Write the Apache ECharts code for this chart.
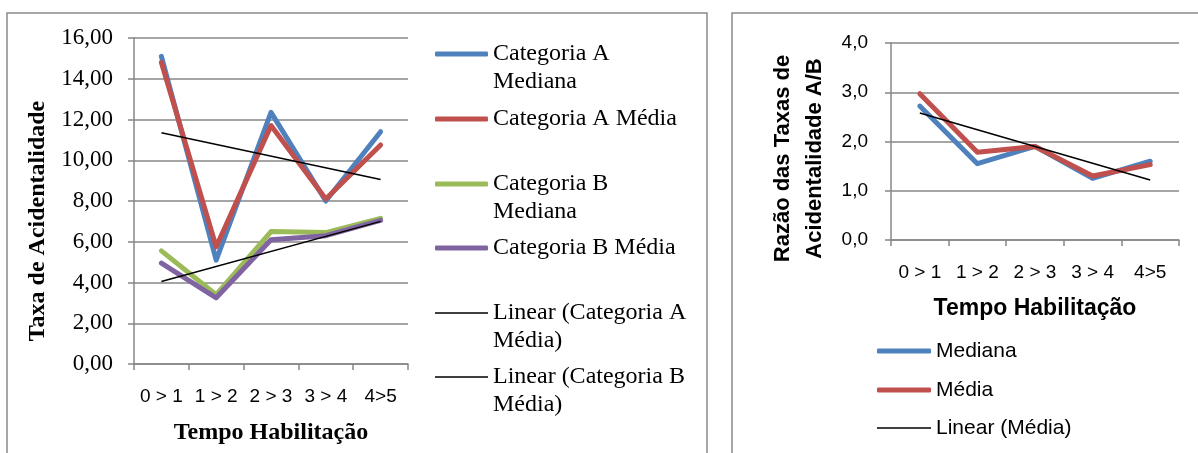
<!DOCTYPE html>
<html>
<head>
<meta charset="utf-8">
<script src="https://cdn.jsdelivr.net/npm/echarts@6/dist/echarts.min.js"></script>
<style>html,body{margin:0;padding:0;background:#fff;}#c{width:1198px;height:453px;}</style>
</head>
<body>
<div id="c"></div>
<script>
// ---- data ----
const categories = ['0 > 1', '1 > 2', '2 > 3', '3 > 4', '4>5'];
const catAMediana = [15.1, 5.1, 12.35, 8.0, 11.4];
const catAMedia   = [14.8, 5.75, 11.7, 8.1, 10.75];
const catBMediana = [5.55, 3.4, 6.5, 6.45, 7.15];
const catBMedia   = [4.95, 3.25, 6.1, 6.3, 7.05];
const linearAMedia = [11.35, null, null, null, 9.05];
const linearBMedia = [4.05, null, null, null, 7.0];
const razaoMediana = [2.72, 1.55, 1.9, 1.25, 1.6];
const razaoMedia   = [2.97, 1.78, 1.9, 1.3, 1.53];
const linearRazaoMedia = [2.58, null, null, null, 1.22];
const leftYTickLabels = ['0,00','2,00','4,00','6,00','8,00','10,00','12,00','14,00','16,00'];
const rightYTickLabels = ['0,0','1,0','2,0','3,0','4,0'];

const SERIF = '"Liberation Serif", "Times New Roman", serif';
const SANS = '"Liberation Sans", Arial, sans-serif';
const GRID_C = '#878787';
const BLUE = '#4F81BD', RED = '#C0504D', GREEN = '#9BBB59', PURPLE = '#8064A2';

function dataLine(name, data, color, xi) {
  return { name, type: 'line', data, xAxisIndex: xi, yAxisIndex: xi, symbol: 'none', silent: true,
    lineStyle: { color, width: 5, cap: 'round', join: 'round' }, itemStyle: { color } };
}
function trendLine(name, data, xi) {
  return { name, type: 'line', data, xAxisIndex: xi, yAxisIndex: xi, symbol: 'none', connectNulls: true, silent: true,
    lineStyle: { color: '#000', width: 1.5 }, itemStyle: { color: '#000' } };
}
function yAxisBase(gi, max, interval, labels, font, fontSize, margin) {
  return { type: 'value', gridIndex: gi, min: 0, max, interval,
    axisLine: { show: true, lineStyle: { color: GRID_C, width: 1.5 } },
    axisTick: { show: true, length: 6, lineStyle: { color: GRID_C, width: 1.5 } },
    splitLine: { show: true, lineStyle: { color: GRID_C, width: 1.5 } },
    axisLabel: { color: '#000', fontFamily: font, fontSize, margin, formatter: (v, i) => labels[i] } };
}
function xAxisBase(gi, font, fontSize, margin) {
  return { type: 'category', gridIndex: gi, data: categories, boundaryGap: true,
    axisLine: { show: true, lineStyle: { color: GRID_C, width: 1.5 } },
    axisTick: { show: true, length: 6, lineStyle: { color: GRID_C, width: 1.5 } },
    axisLabel: { color: '#000', fontFamily: font, fontSize, margin, interval: 0 } };
}
// one legend per entry; two-line names get a leading empty line so the first line sits level with the icon
function legendItem(name, top, left, breakAt, thick, fontFamily, fontSize, lineHeight, itemWidth) {
  return { data: [name], orient: 'vertical', left, top, padding: 0, itemWidth,
    itemHeight: thick ? 5 : 1.5, icon: thick ? 'roundRect' : 'rect',
    selectedMode: false,
    formatter: n => breakAt ? '\n' + n.slice(0, breakAt).trimEnd() + '\n' + n.slice(breakAt).trimStart() : n,
    textStyle: { fontFamily, fontSize, color: '#000', lineHeight } };
}

const chart = echarts.init(document.getElementById('c'), null, { renderer: 'canvas' });
const option = {
  animation: false,
  backgroundColor: '#fff',
  graphic: [
    { type: 'rect', shape: { x: 7, y: 13, width: 700, height: 470 }, style: { fill: 'none', stroke: '#8a8a8a', lineWidth: 1.5 }, silent: true },
    { type: 'rect', shape: { x: 732, y: 13, width: 480, height: 470 }, style: { fill: 'none', stroke: '#8a8a8a', lineWidth: 1.5 }, silent: true }
  ],
  grid: [
    { left: 134, top: 38, right: 790, bottom: 89, containLabel: false },
    { left: 891, top: 43, right: 19, bottom: 213, containLabel: false }
  ],
  xAxis: [
    Object.assign(xAxisBase(0, SANS, 19, 23), { name: 'Tempo Habilitação', nameLocation: 'middle', nameGap: 57,
      nameTextStyle: { fontFamily: SERIF, fontSize: 24, fontWeight: 'bold', color: '#000' } }),
    Object.assign(xAxisBase(1, SANS, 19, 23), { name: 'Tempo Habilitação', nameLocation: 'middle', nameGap: 57,
      nameTextStyle: { fontFamily: SANS, fontSize: 23, fontWeight: 'bold', color: '#000' } })
  ],
  yAxis: [
    Object.assign(yAxisBase(0, 16, 2, leftYTickLabels, SERIF, 23, 21), { name: 'Taxa de Acidentalidade', nameLocation: 'middle', nameGap: 84,
      nameTextStyle: { fontFamily: SERIF, fontSize: 24, fontWeight: 'bold', color: '#000', padding: [0, 40, 0, 0] } }),
    Object.assign(yAxisBase(1, 4, 1, rightYTickLabels, SANS, 19, 23), { name: 'Razão das Taxas de\nAcidentalidade A/B', nameLocation: 'middle', nameGap: 60,
      nameTextStyle: { fontFamily: SANS, fontSize: 22, fontWeight: 'bold', color: '#000', lineHeight: 32, padding: [0, 34, 0, 0] } })
  ],
  legend: [
    legendItem('Categoria A Mediana', 12, 435, 11, true, SERIF, 24, 28, 53),
    legendItem('Categoria A Média', 105, 435, 0, true, SERIF, 24, 28, 53),
    legendItem('Categoria B Mediana', 142, 435, 11, true, SERIF, 24, 28, 53),
    legendItem('Categoria B Média', 234, 435, 0, true, SERIF, 24, 28, 53),
    legendItem('Linear (Categoria A Média)', 271, 435, 19, false, SERIF, 24, 28, 53),
    legendItem('Linear (Categoria B Média)', 335, 435, 19, false, SERIF, 24, 28, 53),
    legendItem('Mediana', 339, 877, 0, true, SANS, 21, 24, 54),
    legendItem('Média', 378, 877, 0, true, SANS, 21, 24, 54),
    legendItem('Linear (Média)', 416, 877, 0, false, SANS, 21, 24, 54)
  ],
  series: [
    dataLine('Categoria A Mediana', catAMediana, BLUE, 0),
    dataLine('Categoria A Média', catAMedia, RED, 0),
    dataLine('Categoria B Mediana', catBMediana, GREEN, 0),
    dataLine('Categoria B Média', catBMedia, PURPLE, 0),
    trendLine('Linear (Categoria A Média)', linearAMedia, 0),
    trendLine('Linear (Categoria B Média)', linearBMedia, 0),
    dataLine('Mediana', razaoMediana, BLUE, 1),
    dataLine('Média', razaoMedia, RED, 1),
    trendLine('Linear (Média)', linearRazaoMedia, 1)
  ]
};
chart.setOption(option);
</script>
</body>
</html>
